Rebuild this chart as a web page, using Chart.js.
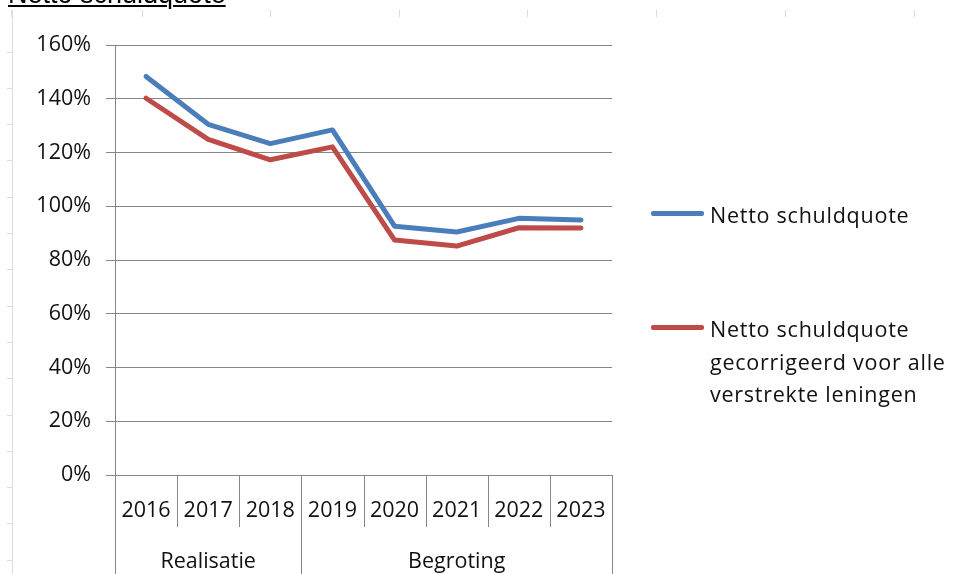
<!DOCTYPE html>
<html>
<head>
<meta charset="utf-8">
<script src="https://cdn.jsdelivr.net/npm/chart.js@4/dist/chart.umd.min.js"></script>
<style>
  html, body { margin: 0; padding: 0; background: #fff; }
  #wrap { position: relative; width: 965px; height: 574px; overflow: hidden; }
  #c { position: absolute; left: 0; top: 0; }
  #title { position: absolute; left: 8px; top: -19px; font-family: "Liberation Sans", Arial, sans-serif;
           font-size: 27px; line-height: 27px; color: #000; text-decoration: underline; text-decoration-thickness: 2px;
           text-underline-offset: 2px; white-space: nowrap; }
  .lg { position: absolute; font-family: "Open Sans", sans-serif; font-size: 21.5px; line-height: 32.5px;
        color: #111; letter-spacing: 0.75px; width: 250px; }
  .sw { position: absolute; height: 5px; border-radius: 2px; }
</style>
</head>
<body>
<div id="wrap">
  <canvas id="c" width="965" height="574"></canvas>
  <div id="title">Netto schuldquote</div>
  <div id="legend"></div>
</div>
<script>
// ---- data ----
const categories = ['2016', '2017', '2018', '2019', '2020', '2021', '2022', '2023'];
const groupLabels = ['Realisatie', 'Begroting'];
const groupSizes = [3, 5];
const seriesNames = ['Netto schuldquote', 'Netto schuldquote gecorrigeerd voor alle verstrekte leningen'];
const nettoSchuldquote = [148.3, 130.5, 123.3, 128.4, 92.6, 90.4, 95.5, 94.9];
const nettoGecorrigeerd = [140.2, 124.9, 117.3, 122.1, 87.4, 85.2, 92.0, 91.9];
const yTickValues = [0, 20, 40, 60, 80, 100, 120, 140, 160];

const FONT = { family: '"Open Sans", sans-serif', size: 21.5 };
const TEXT_COLOR = '#111';
const AXIS_COLOR = '#868686';

const decoPlugin = {
  id: 'deco',
  beforeInit(chart) { chart.ctx.letterSpacing = '0.2px'; },
  beforeDraw(chart) {
    const ctx = chart.ctx;
    ctx.save();
    // faint spreadsheet cell lines
    ctx.strokeStyle = '#dcdcdc';
    ctx.lineWidth = 1;
    ctx.beginPath();
    ctx.moveTo(12.5, 10); ctx.lineTo(12.5, 574);
    for (let y = 51.5; y < 574; y += 36.3) { ctx.moveTo(7, Math.round(y) + 0.5); ctx.lineTo(12, Math.round(y) + 0.5); }
    [11, 142, 270, 399, 527, 656, 785, 914].forEach(x => { ctx.moveTo(x + 0.5, 10); ctx.lineTo(x + 0.5, 17); });
    ctx.stroke();
    ctx.restore();
  },
  afterDraw(chart) {
    const ctx = chart.ctx;
    const xs = chart.scales.x;
    const area = chart.chartArea;
    const step = (area.right - area.left) / categories.length;
    ctx.save();
    ctx.strokeStyle = AXIS_COLOR;
    ctx.lineWidth = 1;
    ctx.beginPath();
    // y axis line extended to bottom
    const x0 = Math.round(area.left) + 0.5;
    ctx.moveTo(x0, area.top); ctx.lineTo(x0, 574);
    // category separators and group boundaries
    let idx = 0;
    const groupEdges = [0];
    groupSizes.forEach(s => { idx += s; groupEdges.push(idx); });
    for (let i = 1; i <= categories.length; i++) {
      const px = Math.round(xs.getPixelForValue(i - 1) + step / 2) + 0.5;
      const isGroup = groupEdges.includes(i);
      ctx.moveTo(px, area.bottom);
      ctx.lineTo(px, isGroup ? 574 : 527);
    }
    ctx.stroke();
    // group labels
    ctx.fillStyle = TEXT_COLOR;
    ctx.font = `${FONT.size}px ${FONT.family}`;
    ctx.textAlign = 'center';
    ctx.textBaseline = 'middle';
    for (let g = 0; g < groupLabels.length; g++) {
      const a = xs.getPixelForValue(groupEdges[g]) - step / 2;
      const b = xs.getPixelForValue(groupEdges[g + 1] - 1) + step / 2;
      ctx.fillText(groupLabels[g], (a + b) / 2, 562);
    }
    ctx.restore();
  }
};

const chart = new Chart(document.getElementById('c'), {
  type: 'line',
  data: {
    labels: categories,
    datasets: [
      { label: seriesNames[0], data: nettoSchuldquote, borderColor: '#4A7EBB', backgroundColor: '#4A7EBB',
        borderWidth: 5, pointRadius: 0, tension: 0, borderJoinStyle: 'round', borderCapStyle: 'round' },
      { label: seriesNames[1], data: nettoGecorrigeerd, borderColor: '#BE4B48', backgroundColor: '#BE4B48',
        borderWidth: 5, pointRadius: 0, tension: 0, borderJoinStyle: 'round', borderCapStyle: 'round' }
    ]
  },
  options: {
    responsive: false,
    animation: false,
    layout: { padding: { top: 45, right: 353, bottom: 0, left: 0 } },
    plugins: { legend: { display: false }, tooltip: { enabled: false }, title: { display: false } },
    scales: {
      x: {
        offset: true,
        grid: { display: false, drawTicks: false },
        border: { display: false },
        ticks: { color: TEXT_COLOR, font: FONT, padding: 23, maxRotation: 0, autoSkip: false },
        afterFit(s) { s.height = 99; }
      },
      y: {
        min: 0, max: 160,
        afterBuildTicks(s) { s.ticks = yTickValues.map(v => ({ value: v })); },
        grid: { color: AXIS_COLOR, lineWidth: 1, tickLength: 9, drawTicks: true },
        border: { display: false },
        ticks: { color: TEXT_COLOR, font: FONT, padding: 15, callback: v => v + '%' },
        afterFit(s) { s.width = 115; }
      }
    }
  },
  plugins: [decoPlugin]
});

// HTML legend built from the chart datasets
const legendTops = [213, 327];
const legendEl = document.getElementById('legend');
chart.data.datasets.forEach((ds, i) => {
  const sw = document.createElement('div');
  sw.className = 'sw';
  sw.style.left = '651px'; sw.style.width = '53px';
  sw.style.top = (legendTops[i] - 2.5) + 'px';
  sw.style.background = ds.borderColor;
  legendEl.appendChild(sw);
  const t = document.createElement('div');
  t.className = 'lg';
  t.style.left = '710px';
  t.style.top = (legendTops[i] - 14) + 'px';
  t.textContent = ds.label;
  legendEl.appendChild(t);
});
</script>
</body>
</html>
